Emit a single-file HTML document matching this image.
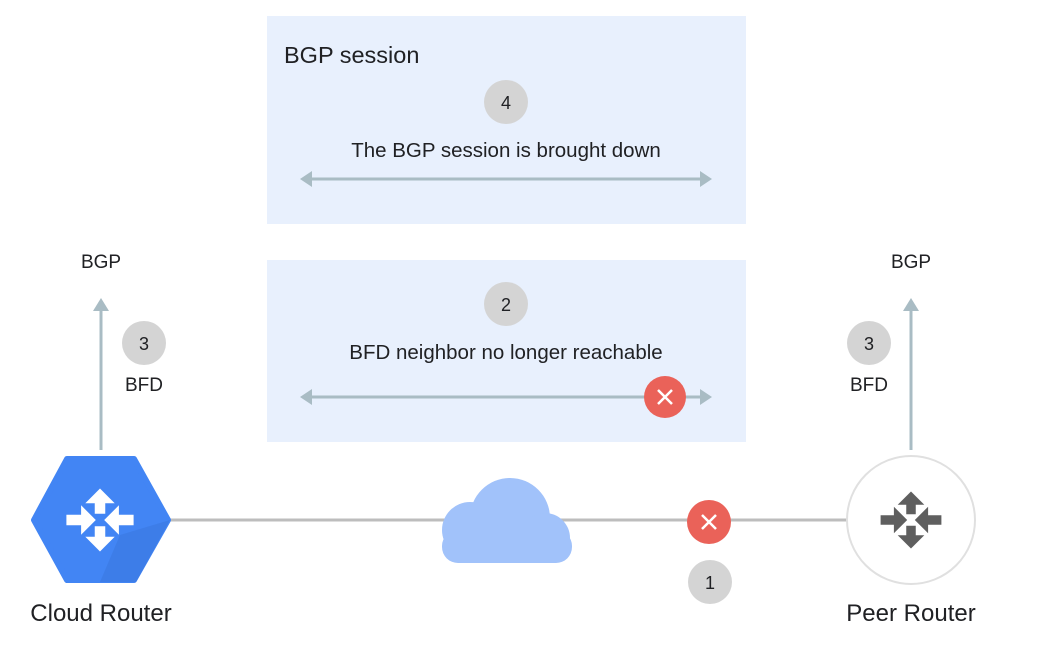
<!DOCTYPE html>
<html><head><style>
body{margin:0;background:#fff;}
svg text{font-family:"Liberation Sans",sans-serif;fill:#202124;}
</style></head><body>
<svg width="1040" height="651" viewBox="0 0 1040 651" xmlns="http://www.w3.org/2000/svg">
<defs>
<g id="ico">
<polygon points="0,-30 -14,-16 -5,-16 -5,-6 5,-6 5,-16 14,-16"/>
<polygon points="0,30 -14,16 -5,16 -5,6 5,6 5,16 14,16"/>
<polygon points="-4,0 -18,-14 -18,-5 -32,-5 -32,5 -18,5 -18,14"/>
<polygon points="4,0 18,-14 18,-5 32,-5 32,5 18,5 18,14"/>
</g>
</defs>
<rect x="267" y="16" width="479" height="208" fill="#e8f0fd"/>
<rect x="267" y="260" width="479" height="182" fill="#e8f0fd"/>
<text x="284" y="63" font-size="23.5">BGP session</text>
<circle cx="506" cy="102" r="22" fill="#d4d4d4"/>
<text x="506" y="109" font-size="18" text-anchor="middle">4</text>
<text x="506" y="157" font-size="20.5" text-anchor="middle">The BGP session is brought down</text>
<g stroke="#a9bcc4" stroke-width="3" fill="#a9bcc4">
<line x1="308" y1="179" x2="704" y2="179"/>
<polygon points="300,179 312,171 312,187" stroke="none"/>
<polygon points="712,179 700,171 700,187" stroke="none"/>
<line x1="308" y1="397" x2="704" y2="397"/>
<polygon points="300,397 312,389 312,405" stroke="none"/>
<polygon points="712,397 700,389 700,405" stroke="none"/>
<line x1="101" y1="310" x2="101" y2="450"/>
<polygon points="101,298 93,311 109,311" stroke="none"/>
<line x1="911" y1="310" x2="911" y2="450"/>
<polygon points="911,298 903,311 919,311" stroke="none"/>
</g>
<circle cx="506" cy="304" r="22" fill="#d4d4d4"/>
<text x="506" y="311" font-size="18" text-anchor="middle">2</text>
<text x="506" y="359" font-size="20.5" text-anchor="middle">BFD neighbor no longer reachable</text>
<circle cx="665" cy="397" r="21" fill="#ea6259"/>
<path d="M658,390 L672,404 M672,390 L658,404" stroke="#fff" stroke-width="2.5"/>
<text x="101" y="268" font-size="19" text-anchor="middle">BGP</text>
<text x="911" y="268" font-size="19" text-anchor="middle">BGP</text>
<circle cx="144" cy="343" r="22" fill="#d4d4d4"/>
<text x="144" y="350" font-size="18" text-anchor="middle">3</text>
<text x="144" y="391" font-size="19" text-anchor="middle">BFD</text>
<circle cx="869" cy="343" r="22" fill="#d4d4d4"/>
<text x="869" y="350" font-size="18" text-anchor="middle">3</text>
<text x="869" y="391" font-size="19" text-anchor="middle">BFD</text>
<line x1="160" y1="520" x2="850" y2="520" stroke="#bdbdbd" stroke-width="3"/>
<g fill="#a1c2fa">
<circle cx="510" cy="518" r="40"/>
<circle cx="470" cy="530" r="28"/>
<circle cx="545" cy="538" r="25"/>
<rect x="442" y="530" width="130" height="33" rx="16"/>
</g>
<circle cx="709" cy="522" r="22" fill="#ea6259"/>
<path d="M702,515 L716,529 M716,515 L702,529" stroke="#fff" stroke-width="2.5"/>
<circle cx="710" cy="582" r="22" fill="#d4d4d4"/>
<text x="710" y="589" font-size="18" text-anchor="middle">1</text>
<polygon points="67,459 134,459 168,520 134,580 67,580 34,520" fill="#4285f4" stroke="#4285f4" stroke-width="6" stroke-linejoin="round"/>
<polygon points="120,535 170,520 136,582 100,582" fill="#3b78e0" opacity="0.6"/>
<g fill="#fff" transform="translate(100,520) scale(1.05)"><use href="#ico"/></g>
<circle cx="911" cy="520" r="64" fill="#fff" stroke="#e0e0e0" stroke-width="2"/>
<g fill="#5f5f5f" transform="translate(911,520) scale(0.95)"><use href="#ico"/></g>
<text x="101" y="621" font-size="24" text-anchor="middle">Cloud Router</text>
<text x="911" y="621" font-size="24" text-anchor="middle">Peer Router</text>
</svg>
</body></html>
